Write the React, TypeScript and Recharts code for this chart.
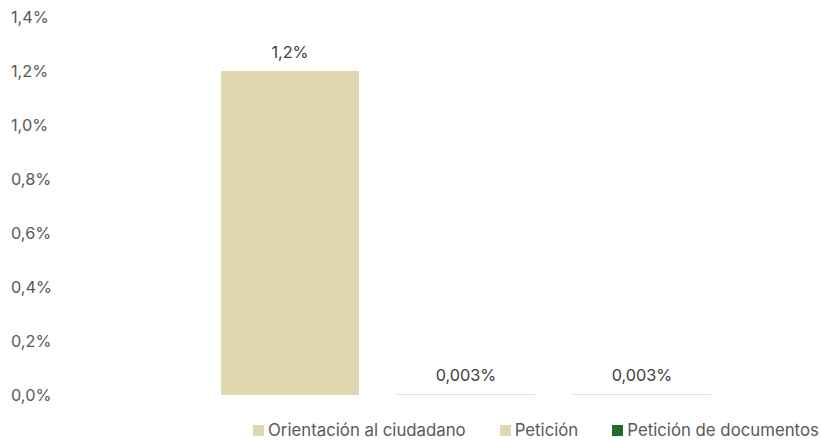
import React from 'react';
import { BarChart, Bar, XAxis, YAxis, LabelList, Legend } from 'recharts';

const seriesNames = ['Orientación al ciudadano', 'Petición', 'Petición de documentos'];
const seriesValues = [1.2, 0.003, 0.003];
const valueLabels = ['1,2%', '0,003%', '0,003%'];
const yTicks = [0, 0.2, 0.4, 0.6, 0.8, 1.0, 1.2, 1.4];
const barColors = ['#DFD8B0', '#DFD8B0', '#DFD8B0'];
const legendColors = ['#DFD8B0', '#DFD8B0', '#1E6B2A'];

const data = [
  seriesNames.reduce((row: any, _n, i) => {
    row['s' + i] = seriesValues[i];
    return row;
  }, { name: '' }),
];

const fmt = (v: number) => v.toFixed(1).replace('.', ',') + '%';

const LegendContent = () => (
  <div style={{ display: 'flex', whiteSpace: 'nowrap', paddingLeft: 253, paddingTop: 11, fontSize: 16.8, color: '#595959', fontFamily: 'Inter, "Open Sans", sans-serif' }}>
    {seriesNames.map((n, i) => (
      <div key={n} style={{ display: 'flex', alignItems: 'center', marginRight: 34, flexShrink: 0 }}>
        <span style={{ display: 'inline-block', width: 11, height: 11, background: legendColors[i], marginRight: 4 }} />
        <span>{n}</span>
      </div>
    ))}
  </div>
);

export default function App() {
  return (
    <div style={{ position: 'absolute', left: 0, top: 0, width: 821, height: 441, background: '#fff' }}>
      <BarChart width={821} height={441} data={data} margin={{ top: 17, right: 11, bottom: 14, left: 0 }} barGap={38}>
        <XAxis dataKey="name" hide padding={{ left: 62, right: 0 }} />
        <YAxis
          domain={[0, 1.4]}
          ticks={yTicks}
          tickFormatter={fmt}
          axisLine={false}
          tickLine={false}
          width={60}
          tick={{ fill: '#595959', fontSize: 16.3, fontFamily: 'Inter, "Open Sans", sans-serif', textAnchor: 'start', dx: -41 }}
        />
        <Legend verticalAlign="bottom" height={32} wrapperStyle={{ bottom: 0, left: 0, width: 821 }} content={<LegendContent />} />
        {seriesNames.map((n, i) => (
          <Bar key={n} dataKey={'s' + i} name={n} fill={barColors[i]} barSize={138} isAnimationActive={false}>
            <LabelList
              dataKey={'s' + i}
              position="top"
              offset={13}
              formatter={() => valueLabels[i]}
              style={{ fill: '#404040', fontSize: 16.3, fontFamily: 'Inter, "Open Sans", sans-serif' }}
            />
          </Bar>
        ))}
      </BarChart>
    </div>
  );
}
